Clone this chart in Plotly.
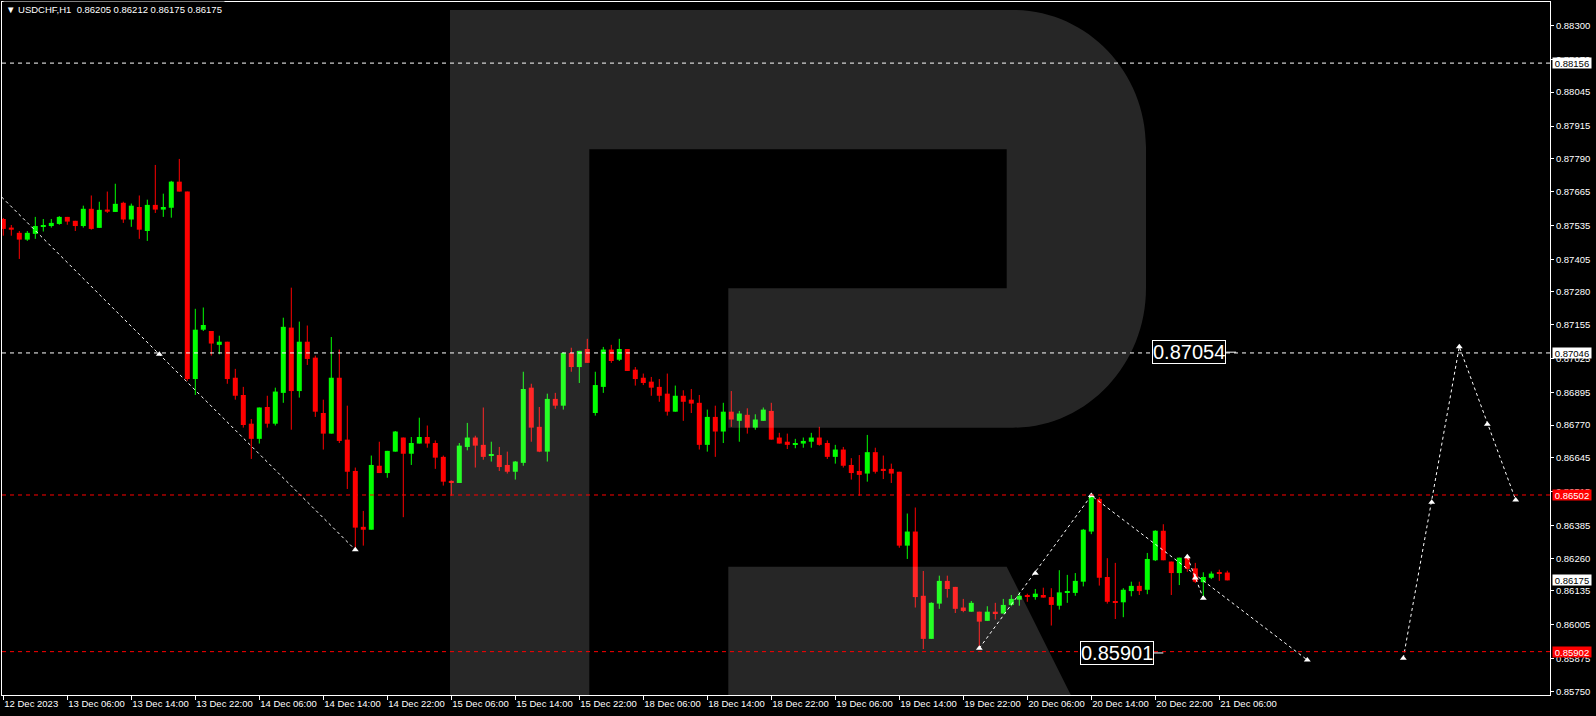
import plotly.graph_objects as go

# ---------------- data (USDCHF H1) ----------------
opens = [0.87559, 0.87526, 0.87506, 0.87480, 0.87502, 0.87530, 0.87532, 0.87540, 0.87567, 0.87552,
         0.87532, 0.87598, 0.87525, 0.87595, 0.87586, 0.87621, 0.87557, 0.87605, 0.87513, 0.87613,
         0.87595, 0.87602, 0.87702, 0.87664, 0.86946, 0.87135, 0.87130, 0.87077, 0.87089, 0.86951,
         0.86885, 0.86775, 0.86717, 0.86839, 0.86775, 0.86893, 0.87143, 0.86900, 0.87089, 0.87028,
         0.86816, 0.86737, 0.86951, 0.86714, 0.86594, 0.86380, 0.86369, 0.86614, 0.86586, 0.86668,
         0.86722, 0.86660, 0.86699, 0.86724, 0.86701, 0.86648, 0.86556, 0.86548, 0.86686, 0.86722,
         0.86694, 0.86655, 0.86655, 0.86617, 0.86591, 0.86625, 0.86913, 0.86763, 0.86668, 0.86870,
         0.86844, 0.87046, 0.86992, 0.87061, 0.86816, 0.86916, 0.87059, 0.87020, 0.87061, 0.86982,
         0.86951, 0.86936, 0.86916, 0.86890, 0.86821, 0.86882, 0.86867, 0.86855, 0.86694, 0.86801,
         0.86745, 0.86821, 0.86786, 0.86809, 0.86760, 0.86786, 0.86824, 0.86722, 0.86706, 0.86694,
         0.86699, 0.86706, 0.86722, 0.86701, 0.86648, 0.86676, 0.86617, 0.86594, 0.86584, 0.86666,
         0.86602, 0.86602, 0.86591, 0.86308, 0.86362, 0.86116, 0.85951, 0.86086, 0.86173, 0.86150,
         0.86071, 0.86055, 0.86055, 0.86020, 0.86055, 0.86048, 0.86081, 0.86101, 0.86115, 0.86111,
         0.86119, 0.86111, 0.86078, 0.86129, 0.86127, 0.86170, 0.86362, 0.86487, 0.86188, 0.86093,
         0.86091, 0.86134, 0.86154, 0.86139, 0.86252, 0.86365, 0.86247, 0.86203, 0.86265, 0.86221,
         0.86168, 0.86185, 0.86203, 0.86205]
highs = [0.87563, 0.87536, 0.87513, 0.87513, 0.87567, 0.87559, 0.87559, 0.87570, 0.87567, 0.87552,
         0.87610, 0.87649, 0.87625, 0.87664, 0.87694, 0.87625, 0.87618, 0.87649, 0.87633, 0.87766,
         0.87656, 0.87705, 0.87789, 0.87664, 0.87215, 0.87220, 0.87130, 0.87112, 0.87089, 0.86985,
         0.86916, 0.86793, 0.86837, 0.86882, 0.86913, 0.87181, 0.87296, 0.87166, 0.87151, 0.87036,
         0.86867, 0.87107, 0.87059, 0.86844, 0.86607, 0.86441, 0.86653, 0.86706, 0.86671, 0.86747,
         0.86722, 0.86724, 0.86798, 0.86768, 0.86711, 0.86653, 0.86558, 0.86701, 0.86778, 0.86729,
         0.86837, 0.86706, 0.86686, 0.86668, 0.86632, 0.86974, 0.86928, 0.86839, 0.86890, 0.86893,
         0.87049, 0.87066, 0.87054, 0.87100, 0.86974, 0.87069, 0.87077, 0.87100, 0.87061, 0.86992,
         0.86967, 0.86954, 0.86946, 0.86967, 0.86921, 0.86903, 0.86908, 0.86885, 0.86829, 0.86844,
         0.86855, 0.86900, 0.86824, 0.86834, 0.86811, 0.86837, 0.86855, 0.86740, 0.86737, 0.86717,
         0.86722, 0.86740, 0.86763, 0.86711, 0.86694, 0.86686, 0.86643, 0.86655, 0.86732, 0.86683,
         0.86653, 0.86622, 0.86591, 0.86431, 0.86454, 0.86211, 0.86091, 0.86193, 0.86193, 0.86150,
         0.86104, 0.86096, 0.86055, 0.86076, 0.86089, 0.86104, 0.86119, 0.86129, 0.86124, 0.86142,
         0.86147, 0.86145, 0.86214, 0.86196, 0.86203, 0.86372, 0.86500, 0.86494, 0.86260, 0.86242,
         0.86145, 0.86170, 0.86170, 0.86280, 0.86367, 0.86390, 0.86247, 0.86262, 0.86272, 0.86242,
         0.86206, 0.86209, 0.86216, 0.86212]
lows = [0.87495, 0.87495, 0.87406, 0.87475, 0.87483, 0.87511, 0.87526, 0.87537, 0.87537, 0.87513,
        0.87526, 0.87518, 0.87525, 0.87582, 0.87586, 0.87544, 0.87529, 0.87483, 0.87475, 0.87582,
        0.87567, 0.87564, 0.87664, 0.86939, 0.86885, 0.87130, 0.87036, 0.87041, 0.86928, 0.86867,
        0.86760, 0.86640, 0.86699, 0.86760, 0.86768, 0.86855, 0.86752, 0.86875, 0.87000, 0.86801,
        0.86676, 0.86737, 0.86701, 0.86525, 0.86293, 0.86308, 0.86369, 0.86586, 0.86568, 0.86668,
        0.86417, 0.86617, 0.86699, 0.86683, 0.86602, 0.86538, 0.86499, 0.86548, 0.86673, 0.86607,
        0.86637, 0.86630, 0.86594, 0.86584, 0.86561, 0.86614, 0.86706, 0.86666, 0.86630, 0.86832,
        0.86829, 0.86974, 0.86931, 0.87008, 0.86806, 0.86893, 0.87008, 0.87015, 0.86977, 0.86921,
        0.86923, 0.86882, 0.86859, 0.86806, 0.86821, 0.86786, 0.86816, 0.86676, 0.86668, 0.86648,
        0.86701, 0.86763, 0.86706, 0.86737, 0.86752, 0.86786, 0.86714, 0.86699, 0.86678, 0.86681,
        0.86683, 0.86683, 0.86691, 0.86640, 0.86622, 0.86607, 0.86561, 0.86499, 0.86553, 0.86584,
        0.86563, 0.86548, 0.86300, 0.86257, 0.86071, 0.85912, 0.85951, 0.86066, 0.86109, 0.86050,
        0.86053, 0.86055, 0.85915, 0.86020, 0.86025, 0.86048, 0.86076, 0.86078, 0.86093, 0.86101,
        0.86109, 0.86002, 0.86063, 0.86089, 0.86116, 0.86152, 0.86352, 0.86155, 0.86086, 0.86027,
        0.86034, 0.86114, 0.86119, 0.86122, 0.86249, 0.86252, 0.86119, 0.86157, 0.86208, 0.86165,
        0.86111, 0.86180, 0.86173, 0.86175]
closes = [0.87521, 0.87518, 0.87480, 0.87506, 0.87532, 0.87532, 0.87544, 0.87567, 0.87549, 0.87532,
          0.87598, 0.87521, 0.87594, 0.87587, 0.87617, 0.87557, 0.87610, 0.87518, 0.87613, 0.87595,
          0.87605, 0.87702, 0.87664, 0.86946, 0.87135, 0.87153, 0.87082, 0.87089, 0.86946, 0.86882,
          0.86770, 0.86717, 0.86837, 0.86775, 0.86898, 0.87146, 0.86900, 0.87089, 0.87023, 0.86821,
          0.86737, 0.86951, 0.86709, 0.86591, 0.86377, 0.86369, 0.86617, 0.86586, 0.86671, 0.86745,
          0.86660, 0.86701, 0.86724, 0.86699, 0.86645, 0.86553, 0.86548, 0.86691, 0.86722, 0.86691,
          0.86648, 0.86656, 0.86609, 0.86591, 0.86630, 0.86908, 0.86760, 0.86668, 0.86870, 0.86844,
          0.87046, 0.86992, 0.87054, 0.87008, 0.86923, 0.87059, 0.87015, 0.87061, 0.86977, 0.86946,
          0.86931, 0.86913, 0.86882, 0.86821, 0.86882, 0.86859, 0.86852, 0.86694, 0.86801, 0.86745,
          0.86821, 0.86791, 0.86814, 0.86760, 0.86791, 0.86829, 0.86714, 0.86699, 0.86694, 0.86701,
          0.86709, 0.86722, 0.86694, 0.86648, 0.86676, 0.86614, 0.86586, 0.86579, 0.86666, 0.86591,
          0.86594, 0.86584, 0.86308, 0.86362, 0.86111, 0.85951, 0.86089, 0.86173, 0.86142, 0.86066,
          0.86058, 0.86089, 0.86017, 0.86055, 0.86048, 0.86081, 0.86104, 0.86116, 0.86113, 0.86124,
          0.86109, 0.86081, 0.86129, 0.86134, 0.86173, 0.86369, 0.86497, 0.86185, 0.86093, 0.86091,
          0.86139, 0.86154, 0.86134, 0.86257, 0.86365, 0.86252, 0.86203, 0.86262, 0.86219, 0.86170,
          0.86188, 0.86201, 0.86201, 0.86175]

bar_index = list(range(len(closes)))

time_tick_index = list(range(0, 153, 8))
time_tick_labels = ["12 Dec 2023", "13 Dec 06:00", "13 Dec 14:00", "13 Dec 22:00", "14 Dec 06:00",
                    "14 Dec 14:00", "14 Dec 22:00", "15 Dec 06:00", "15 Dec 14:00", "15 Dec 22:00",
                    "18 Dec 06:00", "18 Dec 14:00", "18 Dec 22:00", "19 Dec 06:00", "19 Dec 14:00",
                    "19 Dec 22:00", "20 Dec 06:00", "20 Dec 14:00", "20 Dec 22:00", "21 Dec 06:00"]

price_ticks = [0.88300, 0.88170, 0.88045, 0.87915, 0.87790, 0.87665, 0.87535, 0.87405, 0.87280,
               0.87155, 0.87025, 0.86895, 0.86770, 0.86645, 0.86515, 0.86385, 0.86260, 0.86135,
               0.86005, 0.85875, 0.85750]

white_levels = [0.88156, 0.87046]
red_levels = [0.86502, 0.85902]

# axis price tags: value, background, text colour
price_tags = [(0.88156, "#FFFFFF", "#000000"), (0.87046, "#FFFFFF", "#000000"),
              (0.86502, "#FF0000", "#FFFFFF"), (0.86175, "#FFFFFF", "#000000"),
              (0.85902, "#FF0000", "#FFFFFF")]

# forecast drawings (bar index, price)
old_path_x = [-0.2, 19.5, 44.0]
old_path_y = [0.87643, 0.87041, 0.86292]
old_marks_x = [19.5, 44.0]
old_marks_y = [0.87041, 0.86292]

path_a_x = [122, 136, 163]
path_a_y = [0.85915, 0.86500, 0.85870]
branch_x = [148, 149, 150]
branch_y = [0.86265, 0.86184, 0.86107]
path_b_x = [175, 182, 189.05]
path_b_y = [0.85877, 0.87070, 0.86483]
marks_x = [122, 129, 136, 148, 149, 150, 163, 175, 178.55, 182, 185.5, 189.05]
marks_y = [0.85915, 0.86202, 0.86500, 0.86265, 0.86184, 0.86107, 0.85870,
           0.85877, 0.86474, 0.87070, 0.86773, 0.86483]

level_labels = [("0.87054", 148.2, 0.87049, 152.85, 154.1), ("0.85901", 139.15, 0.85897, 143.8, 145.0)]

title_text = "\u25BC USDCHF,H1  0.86205 0.86212 0.86175 0.86175"

# ---------------- figure ----------------
W, H = 1596, 716
ML, MR, MT, MB = 2, 46, 2, 21
BAR_W = 0.625
MIN_BODY = 0.00004
GREEN = "#00FF00"
RED = "#FF0000"
FONT = "Liberation Sans"

fig = go.Figure()

# wicks
for col, cond in ((GREEN, lambda o, c: c >= o), (RED, lambda o, c: c < o)):
    wx, wy = [], []
    for i in bar_index:
        if cond(opens[i], closes[i]):
            wx += [i, i, None]
            wy += [lows[i], highs[i], None]
    fig.add_trace(go.Scatter(x=wx, y=wy, mode="lines", line=dict(color=col, width=1),
                             hoverinfo="skip", showlegend=False))

# bodies
bottoms = [min(o, c) for o, c in zip(opens, closes)]
heights = [max(abs(c - o), MIN_BODY) for o, c in zip(opens, closes)]
colors = [GREEN if c >= o else RED for o, c in zip(opens, closes)]
fig.add_trace(go.Bar(x=bar_index, y=heights, base=bottoms, width=BAR_W,
                     marker=dict(color=colors, line=dict(width=0)),
                     showlegend=False, hoverinfo="skip"))

# forecast lines
dot = dict(color="#FFFFFF", width=1, dash="3px,3px")
for xs, ys in ((old_path_x, old_path_y), (path_a_x, path_a_y), (branch_x, branch_y), (path_b_x, path_b_y)):
    fig.add_trace(go.Scatter(x=xs, y=ys, mode="lines", line=dot, hoverinfo="skip", showlegend=False))
fig.add_trace(go.Scatter(x=old_marks_x + marks_x, y=old_marks_y + marks_y, mode="markers",
                         marker=dict(symbol="triangle-up", size=6, color="#FFFFFF"),
                         hoverinfo="skip", showlegend=False))


def pp(px, py):
    return f"{(px - ML) / (W - ML - MR):.5f},{(H - MB - py) / (H - MT - MB):.5f}"


# watermark logo (decoration, in paper units)
r_path = ("M " + pp(450, 10) + " L " + pp(1013, 10) +
          " C " + pp(1086.5, 10) + " " + pp(1146, 71.3) + " " + pp(1146, 147) +
          " L " + pp(1146, 288) +
          " C " + pp(1146, 365) + " " + pp(1086.5, 427.7) + " " + pp(1013, 427.7) +
          " L " + pp(728.3, 427.7) + " L " + pp(728.3, 288.3) + " L " + pp(1006.7, 288.3) +
          " L " + pp(1006.7, 149.3) + " L " + pp(589.3, 149.3) + " L " + pp(589.3, 695) +
          " L " + pp(450, 695) + " Z")
leg_path = ("M " + pp(728.3, 566.7) + " L " + pp(1006.7, 566.7) + " L " + pp(1070.8, 695) +
            " L " + pp(728.3, 695) + " Z")

shapes = []
for p in (r_path, leg_path):
    shapes.append(dict(type="path", path=p, xref="paper", yref="paper",
                       fillcolor="rgba(255,255,255,0.149)", line=dict(width=0), layer="above"))
for v in white_levels:
    shapes.append(dict(type="line", xref="paper", x0=0, x1=1, yref="y", y0=v, y1=v,
                       line=dict(color="#FFFFFF", width=1, dash="4px,4px"), layer="above"))
for v in red_levels:
    shapes.append(dict(type="line", xref="paper", x0=0, x1=1, yref="y", y0=v, y1=v,
                       line=dict(color="#FF0000", width=1, dash="4px,4px"), layer="above"))
for txt, xc, yc, t0, t1 in level_labels:
    shapes.append(dict(type="line", xref="x", x0=t0, x1=t1, yref="y", y0=yc, y1=yc,
                       line=dict(color="#FFFFFF", width=1), layer="above"))

annotations = []
for txt, xc, yc, t0, t1 in level_labels:
    annotations.append(dict(x=xc, y=yc, xref="x", yref="y", text=txt, showarrow=False,
                            font=dict(family=FONT, size=20, color="#FFFFFF"),
                            bgcolor="#000000", bordercolor="#FFFFFF", borderwidth=1, borderpad=0))
for v, bg, fg in price_tags:
    annotations.append(dict(x=1, xref="paper", xanchor="left", xshift=2, y=v, yref="y",
                            text=f"{v:.5f}", showarrow=False, bgcolor=bg, width=38, height=10,
                            align="center", valign="middle",
                            font=dict(family=FONT, size=9.5, color=fg), borderpad=0))
annotations.append(dict(x=0, y=1, xref="paper", yref="paper", xanchor="left", yanchor="top",
                        xshift=1, yshift=1, text=title_text, showarrow=False, bgcolor="#000000",
                        font=dict(family=FONT, size=9.5, color="#FFFFFF"), borderpad=2))

fig.update_layout(
    width=W, height=H,
    margin=dict(l=ML, r=MR, t=MT, b=MB, autoexpand=False),
    paper_bgcolor="#000000", plot_bgcolor="#000000",
    barmode="overlay", showlegend=False,
    shapes=shapes, annotations=annotations,
    font=dict(family=FONT, size=9.5, color="#FFFFFF"),
    xaxis=dict(range=[-0.1625, 193.3375], tickmode="array", tickvals=time_tick_index,
               ticktext=time_tick_labels, ticks="outside", ticklen=4, tickcolor="#FFFFFF",
               ticklabelposition="outside right", tickangle=0, automargin=False,
               showgrid=False, zeroline=False,
               showline=True, linecolor="#FFFFFF", linewidth=1, mirror=True,
               tickfont=dict(family=FONT, size=9.5, color="#FFFFFF"), fixedrange=True),
    yaxis=dict(range=[0.85736, 0.88390], side="right", tickmode="array", tickvals=price_ticks,
               ticktext=[f"{v:.5f}" for v in price_ticks], ticks="outside", ticklen=3,
               automargin=False,
               tickcolor="#FFFFFF", showgrid=False, zeroline=False, showline=True,
               linecolor="#FFFFFF", linewidth=1, mirror=True,
               tickfont=dict(family=FONT, size=9.5, color="#FFFFFF"), fixedrange=True),
)

fig.write_html("out.html", config={"displayModeBar": False},
               post_script="document.body.style.margin='0';document.body.style.background='#000';")
